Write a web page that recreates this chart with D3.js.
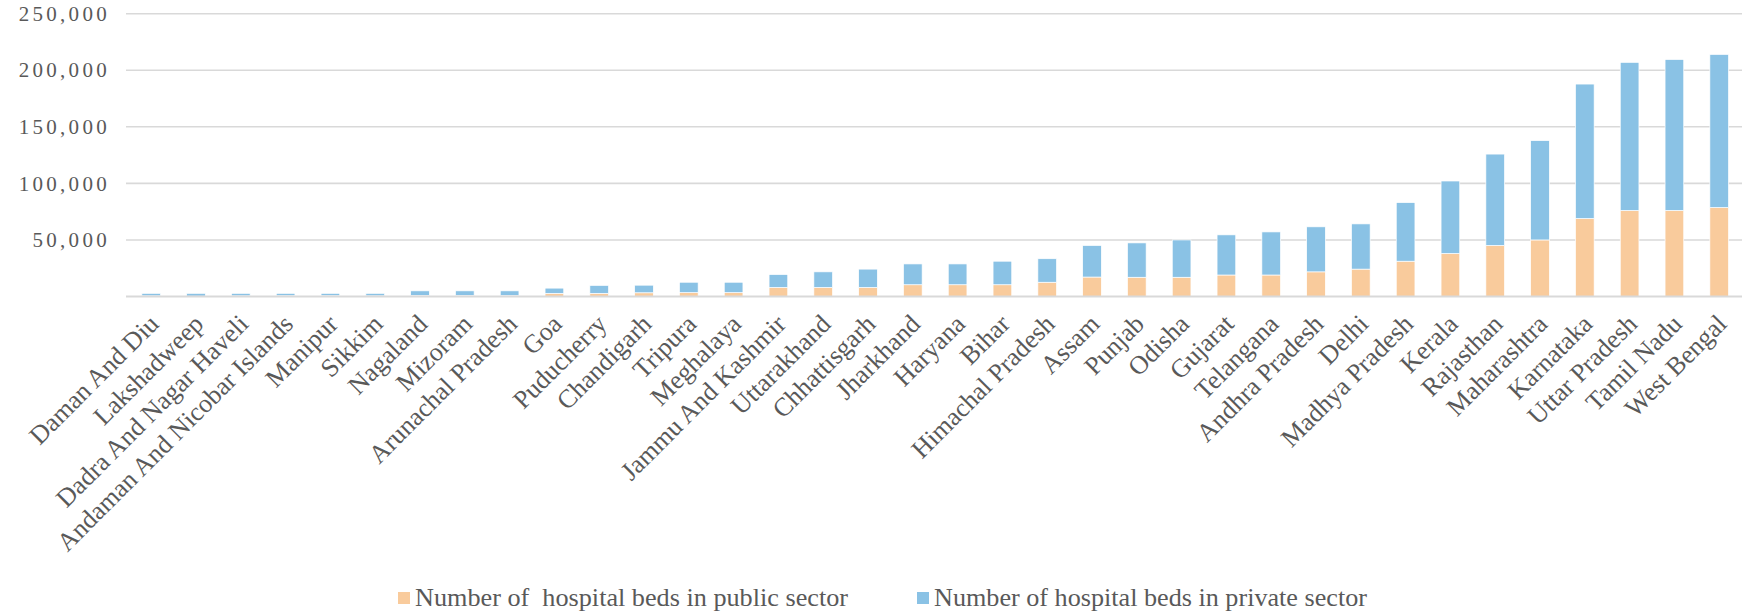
<!DOCTYPE html>
<html>
<head>
<meta charset="utf-8">
<script src="https://cdn.jsdelivr.net/npm/d3@7"></script>
<style>
  body { margin: 0; background: #fff; }
  text { font-family: "Liberation Serif", "DejaVu Serif", serif; fill: #595959; }
</style>
</head>
<body>
<svg id="chart" width="1747" height="613"></svg>
<script>
// Data (hospital beds by state / UT)
let states = [
  "Daman And Diu", "Lakshadweep", "Dadra And Nagar Haveli", "Andaman And Nicobar Islands",
  "Manipur", "Sikkim", "Nagaland", "Mizoram", "Arunachal Pradesh", "Goa", "Puducherry",
  "Chandigarh", "Tripura", "Meghalaya", "Jammu And Kashmir", "Uttarakhand", "Chhattisgarh",
  "Jharkhand", "Haryana", "Bihar", "Himachal Pradesh", "Assam", "Punjab", "Odisha",
  "Gujarat", "Telangana", "Andhra Pradesh", "Delhi", "Madhya Pradesh", "Kerala",
  "Rajasthan", "Maharashtra", "Karnataka", "Uttar Pradesh", "Tamil Nadu", "West Bengal"
];

let publicBeds = [
  600, 300, 600, 700, 700, 600, 900, 900, 800, 2800, 2800, 3300, 3400, 3400, 8000, 8000,
  8000, 10400, 10400, 10400, 12600, 17200, 17000, 17000, 19000, 19000, 21800, 24200,
  31200, 38000, 45100, 50000, 68900, 76000, 76000, 78600
];

let privateBeds = [
  2200, 2500, 2200, 2100, 2100, 2200, 4100, 4100, 4200, 4600, 7000, 6700, 9200, 9200,
  11400, 13800, 16200, 18400, 18400, 20800, 20800, 27900, 30400, 33000, 35500, 38100,
  39800, 40000, 51800, 64100, 80800, 87800, 118900, 131000, 133500, 135400
];

let yTicks = [50000, 100000, 150000, 200000, 250000];

let seriesNames = [
  "Number of  hospital beds in public sector",
  "Number of hospital beds in private sector"
];
let seriesColors = ["#f9cb9c", "#8ac2e5"];

// Layout
let plotLeft = 128.8;
let plotRight = 1741.6;
let plotTop = 13.7;
let plotBase = 296.5;

let svg = d3.select("#chart");

let x = d3.scaleBand()
  .domain(states)
  .range([plotLeft, plotRight])
  .paddingInner(0.583)
  .paddingOuter(0.583 / 2);

let y = d3.scaleLinear()
  .domain([0, 250000])
  .range([plotBase, plotTop]);

// Gridlines
svg.append("g")
  .selectAll("line")
  .data(yTicks)
  .enter()
  .append("line")
  .attr("x1", 126)
  .attr("x2", 1742)
  .attr("y1", d => y(d))
  .attr("y2", d => y(d))
  .attr("stroke", "#d9d9d9")
  .attr("stroke-width", 1.6);

// Y axis labels
let yAxis = d3.axisLeft(y)
  .tickValues(yTicks)
  .tickSize(0)
  .tickPadding(16)
  .tickFormat(d3.format(","));

let yG = svg.append("g")
  .attr("transform", "translate(126,0)")
  .call(yAxis);
yG.select(".domain").remove();
yG.selectAll("text")
  .style("font-family", "'Liberation Serif', serif")
  .style("font-size", "21px")
  .style("letter-spacing", "3.3px")
  .style("fill", "#595959");

// Stacked bars
let rows = states.map((s, i) => ({ state: s, pub: publicBeds[i], priv: privateBeds[i] }));
let stack = d3.stack().keys(["pub", "priv"])(rows);

svg.append("g")
  .selectAll("g")
  .data(stack)
  .enter()
  .append("g")
  .attr("fill", (d, i) => seriesColors[i])
  .selectAll("rect")
  .data(d => d)
  .enter()
  .append("rect")
  .attr("x", d => x(d.data.state))
  .attr("width", x.bandwidth())
  .attr("y", d => y(d[1]))
  .attr("height", d => y(d[0]) - y(d[1]))
  .attr("stroke", "#ffffff")
  .attr("stroke-width", 0.7);

// Baseline
svg.append("line")
  .attr("x1", 126)
  .attr("x2", 1742)
  .attr("y1", plotBase)
  .attr("y2", plotBase)
  .attr("stroke", "#d9d9d9")
  .attr("stroke-width", 2);

// Category labels, rotated
svg.append("g")
  .selectAll("text")
  .data(states)
  .enter()
  .append("text")
  .attr("transform", d => "translate(" + (x(d) + x.bandwidth() / 2 + 9) + "," + (plotBase + 29) + ") rotate(-45)")
  .attr("text-anchor", "end")
  .style("font-size", "26px")
  .text(d => d);

// Legend
let legendX = [398, 917];
let legend = svg.append("g")
  .selectAll("g")
  .data(seriesNames)
  .enter()
  .append("g")
  .attr("transform", (d, i) => "translate(" + legendX[i] + ",598)");

legend.append("rect")
  .attr("x", 0)
  .attr("y", -6)
  .attr("width", 12)
  .attr("height", 12)
  .attr("fill", (d, i) => seriesColors[i]);

legend.append("text")
  .attr("x", 17)
  .attr("y", 8)
  .style("font-size", "26px")
  .style("white-space", "pre")
  .attr("textLength", 433)
  .attr("lengthAdjust", "spacingAndGlyphs")
  .text(d => d);
</script>
</body>
</html>
